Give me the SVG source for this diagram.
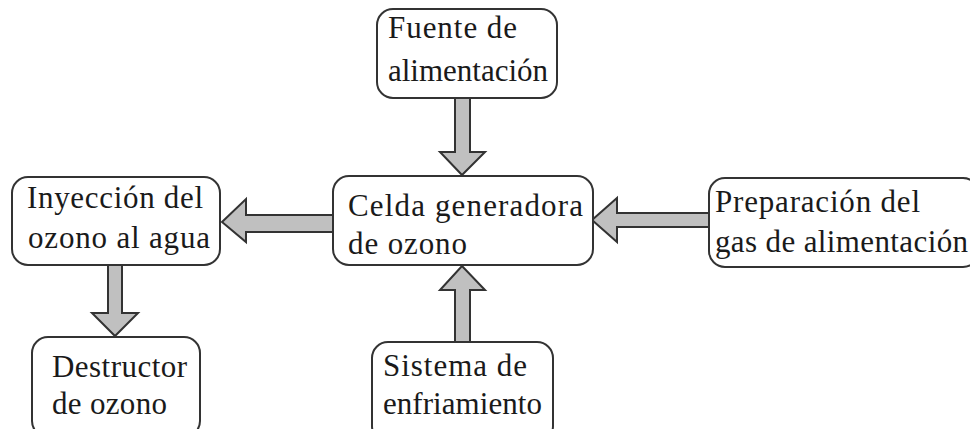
<svg xmlns="http://www.w3.org/2000/svg" width="970" height="429" viewBox="0 0 970 429">
<style>
.box{fill:#fff;stroke:#333;stroke-width:2}
.arr{fill:#c0c0c0;stroke:#333;stroke-width:2;stroke-linejoin:miter}
.t{font-family:'Liberation Serif','DejaVu Serif',serif;font-size:31px;fill:#1a1a1a}
</style>
<rect width="970" height="429" fill="#fff"/>
<g id="connectors">
<polygon class="arr" points="455,98 470,98 470,152 485,152 462,175 440,152 455,152"/>
<polygon class="arr" points="333,215 246,215 246,199 222,222 246,242 246,232 333,232"/>
<polygon class="arr" points="108,265 122,265 122,313 138,313 115,336 92,313 108,313"/>
<polygon class="arr" points="709,213 617,213 617,198 592,220 617,242 617,227 709,227"/>
<polygon class="arr" points="455,342 470,342 470,290 485,290 462,266 440,290 455,290"/>
</g>
<g id="fuente"><rect class="box" x="377" y="9" width="180" height="89" rx="16"/><text class="t" x="388" y="38" textLength="129" lengthAdjust="spacing">Fuente de</text><text class="t" x="388" y="81" textLength="160" lengthAdjust="spacing">alimentación</text></g>
<g id="celda"><rect class="box" x="333" y="176" width="260" height="89" rx="16"/><text class="t" x="348" y="216" textLength="235" lengthAdjust="spacing">Celda generadora</text><text class="t" x="348" y="254" textLength="119" lengthAdjust="spacing">de ozono</text></g>
<g id="inyeccion"><rect class="box" x="12" y="177" width="208" height="88" rx="16"/><text class="t" x="27" y="208" textLength="176" lengthAdjust="spacing">Inyección del</text><text class="t" x="28" y="248" textLength="182" lengthAdjust="spacing">ozono al agua</text></g>
<g id="destructor"><rect class="box" x="32" y="337" width="168" height="100" rx="16"/><text class="t" x="52" y="377" textLength="135" lengthAdjust="spacing">Destructor</text><text class="t" x="52" y="414" textLength="115" lengthAdjust="spacing">de ozono</text></g>
<g id="preparacion"><rect class="box" x="709" y="178" width="270" height="89" rx="16"/><text class="t" x="715" y="212" textLength="205" lengthAdjust="spacing">Preparación del</text><text class="t" x="715" y="252" textLength="253" lengthAdjust="spacing">gas de alimentación</text></g>
<g id="sistema"><rect class="box" x="372" y="342" width="181" height="100" rx="16"/><text class="t" x="383" y="376" textLength="144" lengthAdjust="spacing">Sistema de</text><text class="t" x="383" y="414" textLength="159" lengthAdjust="spacing">enfriamiento</text></g>
</svg>
